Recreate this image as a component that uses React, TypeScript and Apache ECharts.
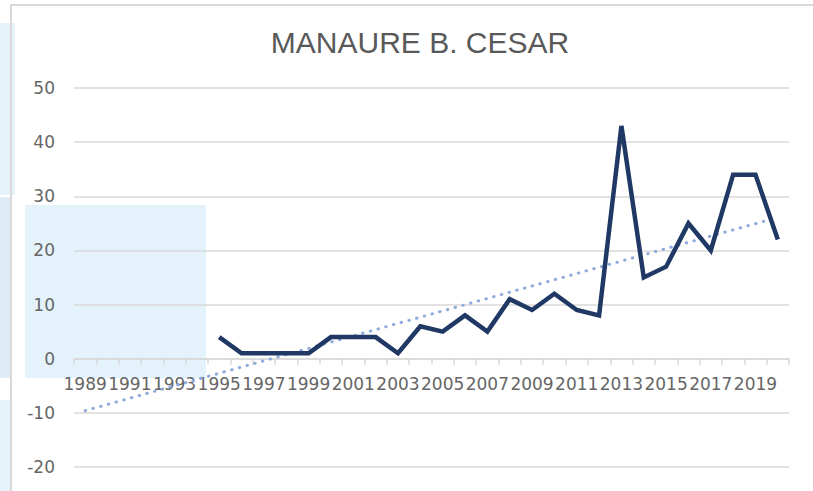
import React, { useEffect, useRef } from "react";
import * as echarts from "echarts";

const years: string[] = [
  "1989", "1990", "1991", "1992", "1993", "1994", "1995", "1996", "1997", "1998",
  "1999", "2000", "2001", "2002", "2003", "2004", "2005", "2006", "2007", "2008",
  "2009", "2010", "2011", "2012", "2013", "2014", "2015", "2016", "2017", "2018",
  "2019", "2020",
];

const values: (number | null)[] = [
  null, null, null, null, null, null,
  4, 1, 1, 1, 1, 4, 4, 4, 1, 6, 5, 8, 5, 11, 9, 12, 9, 8, 43, 15, 17, 25, 20, 34, 34, 22,
];

// linear trend line endpoints (1989 and 2020)
const trendStart = -9.6;
const trendEnd = 26.1;

const yTicks = { min: -20, max: 50, interval: 10 };

const titleText = "MANAURE B. CESAR";

export default function App() {
  const ref = useRef<HTMLDivElement>(null);

  useEffect(() => {
    if (!ref.current) return;
    const chart = echarts.init(ref.current, undefined, { renderer: "svg" });
    const trend: (number | null)[] = years.map((_, i) =>
      i === 0 ? trendStart : i === years.length - 1 ? trendEnd : null
    );
    const font = "'Liberation Sans', 'DejaVu Sans', sans-serif";
    const axisFont = "'DejaVu Sans', 'Liberation Sans', sans-serif";
    const gridTop = 88;
    const gridBottom = 24;
    const plotH = 491 - gridTop - gridBottom;
    const zeroOffset = (plotH * (0 - yTicks.min)) / (yTicks.max - yTicks.min);
    chart.setOption({
      animation: false,
      backgroundColor: "#ffffff",
      title: {
        text: titleText,
        left: 415,
        top: 22,
        textAlign: "center",
        textStyle: {
          fontFamily: font,
          fontSize: 30,
          fontWeight: "normal",
          color: "#595959",
        },
      },
      graphic: [
        { type: "rect", z: -10, silent: true, shape: { x: 0, y: 23, width: 15, height: 172 }, style: { fill: "#E5F2FA" } },
        { type: "rect", z: -10, silent: true, shape: { x: 0, y: 197, width: 10, height: 181 }, style: { fill: "#DFECF6" } },
        { type: "rect", z: -10, silent: true, shape: { x: 0, y: 400, width: 10, height: 91 }, style: { fill: "#E5F2FA" } },
        { type: "rect", z: -10, silent: true, shape: { x: 10, y: 4, width: 803, height: 2 }, style: { fill: "#D9D9D9" } },
        { type: "rect", z: -10, silent: true, shape: { x: 10, y: 4, width: 2, height: 487 }, style: { fill: "#D9D9D9" } },
        { type: "rect", z: -10, silent: true, shape: { x: 25, y: 205, width: 181, height: 173 }, style: { fill: "#E4F3FB" } },
      ],
      grid: {
        left: 74,
        right: 24,
        top: gridTop,
        bottom: gridBottom,
        containLabel: false,
        outerBoundsMode: "none",
      },
      xAxis: {
        type: "category",
        data: years,
        boundaryGap: true,
        position: "bottom",
        offset: -zeroOffset,
        axisLine: { onZero: false, lineStyle: { color: "#D9D9D9", width: 1.5 } },
        axisTick: { show: true, interval: 0, length: 6, lineStyle: { color: "#D9D9D9", width: 1.5 } },
        axisLabel: {
          interval: 1,
          margin: 17,
          fontFamily: axisFont,
          fontSize: 17,
          color: "#666666",
        },
        splitLine: { show: false },
      },
      yAxis: {
        type: "value",
        min: yTicks.min,
        max: yTicks.max,
        interval: yTicks.interval,
        axisLine: { show: false },
        axisTick: { show: false },
        axisLabel: {
          margin: 19,
          fontFamily: axisFont,
          fontSize: 17,
          color: "#666666",
        },
        splitLine: { show: true, lineStyle: { color: "#D9D9D9", width: 1.5 } },
      },
      series: [
        {
          type: "line",
          data: trend,
          connectNulls: true,
          showSymbol: false,
          symbol: "none",
          lineStyle: { color: "#8FAADC", width: 3, type: [0.5, 7.5], cap: "round" },
          z: 2,
        },
        {
          type: "line",
          data: values,
          showSymbol: false,
          symbol: "none",
          lineStyle: { color: "#203864", width: 4.5, join: "miter" },
          z: 3,
        },
      ],
    });
    return () => chart.dispose();
  }, []);

  return (
    <div
      ref={ref}
      style={{ position: "absolute", left: 0, top: 0, width: 813, height: 491 }}
    />
  );
}
